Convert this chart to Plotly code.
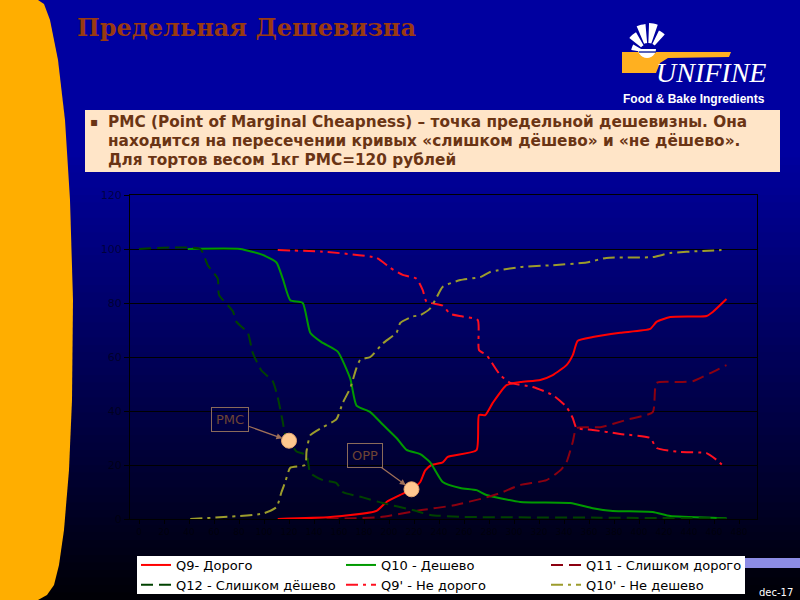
import math
import plotly.graph_objects as go

# ---------------- data ----------------
price_q9 = [111, 153, 190, 198, 209, 218, 225, 229, 234, 243, 247, 270, 272, 277, 283, 294, 305, 321, 331, 342, 347, 351, 363, 385, 409, 414, 425, 454, 459, 470]
q9 = [0, 0.7, 3, 6.3, 8.9, 11, 13.7, 18, 20, 21, 23, 25.5, 38.5, 38.5, 43, 49.6, 50.7, 51.5, 53.3, 57, 60.7, 66, 67.4, 69, 70.4, 73, 74.8, 75.2, 76.7, 81.5]

price_q10 = [39, 81, 99, 110, 115, 121, 131, 137, 146, 159, 169, 174, 185, 195, 206, 214, 225, 233, 243, 257, 270, 278, 305, 345, 363, 379, 411, 425, 465, 470]
q10 = [100, 100, 97.8, 95, 89, 81, 80, 69, 65.5, 62, 52, 42, 39.6, 35, 30, 25.6, 24, 21, 13.7, 11.5, 10.7, 8.9, 6.3, 5.9, 4, 3, 2.6, 1.1, 0.4, 0.3]

price_q11 = [150, 193, 226, 251, 278, 289, 305, 326, 337, 342, 347, 350, 369, 390, 411, 414, 433, 443, 457, 470]
q11 = [0, 0.7, 3.3, 5, 8, 9.6, 12.6, 14.4, 18, 21, 28.5, 33.7, 34, 36.7, 39.6, 50.4, 50.7, 51, 54, 57]

price_q12 = [0, 49, 55, 63, 64, 75, 78, 87, 91, 98, 107, 111, 115, 117, 120, 126, 134, 137, 147, 158, 163, 179, 195, 219, 233, 257, 369, 470]
q12 = [100, 100, 94, 89, 83, 77, 73, 69, 61.5, 55, 51, 45, 36, 31, 29, 25, 23.7, 17, 14.4, 13.3, 10, 8, 5.9, 3.3, 1.5, 0.8, 0.5, 0.2]

price_q9n = [111, 147, 190, 201, 211, 222, 227, 230, 243, 249, 259, 271, 272, 278, 289, 297, 315, 331, 342, 347, 350, 363, 385, 409, 414, 433, 454, 462, 469]
q9n = [99.6, 99, 96.7, 93, 90.4, 89, 84.8, 80.5, 79, 76, 75, 73.7, 62.6, 60.7, 53.3, 50.4, 48.9, 45.9, 41.5, 37.4, 33.7, 33, 31.5, 30, 26.3, 24.8, 24.4, 21.9, 19]

price_q10n = [41, 99, 110, 114, 117, 121, 133, 134, 137, 147, 158, 163, 169, 174, 177, 185, 195, 206, 209, 219, 225, 233, 238, 243, 257, 273, 281, 305, 331, 358, 374, 411, 425, 451, 466]
q10n = [0, 2, 4.4, 10, 13.7, 19, 20, 25, 31, 34, 37, 43, 48.5, 56, 59, 60, 65, 69, 72.6, 75, 75.5, 78, 82, 86, 88.5, 89.6, 91.5, 93.3, 94, 95, 96.7, 97, 98.5, 99.3, 99.6]

point_labels = ["PMC", "OPP"]
point_price = [120, 218]
point_pct = [29, 11]

x_ticks = list(range(0, 481, 20))
y_ticks = [0, 20, 40, 60, 80, 100, 120]

series_names = ["Q9- Дорого", "Q10 - Дешево", "Q11 - Слишком дорого",
                "Q12 - Слишком дёшево", "Q9' - Не дорого", "Q10' - Не дешево"]

# ---------------- geometry helpers ----------------
W, H = 800, 600
L, R, T, B = 130, 43, 195, 81
PW = W - L - R
PH = H - T - B


def X(px):
    return (px - L) / PW


def Y(py):
    return (H - B - py) / PH


def poly(points):
    return "M " + " L ".join(f"{X(a):.5f},{Y(b):.5f}" for a, b in points) + " Z"


shapes = []
# background gradient
shapes.append(dict(type="rect", xref="paper", yref="paper", x0=X(0), x1=X(W), y0=Y(151), y1=Y(0),
                   fillcolor="rgb(0,0,160)", line=dict(width=0), layer="below"))
nb = 60
for i in range(nb):
    y0 = 150 + i * 450 / nb
    y1 = y0 + 450 / nb + 1
    mid = (y0 + y1) / 2
    b = 160 - 155 * (mid - 150) / 450
    shapes.append(dict(type="rect", xref="paper", yref="paper", x0=X(0), x1=X(W), y0=Y(min(y1, 600)), y1=Y(y0),
                       fillcolor=f"rgb(0,0,{int(round(b))})", line=dict(width=0), layer="below"))

# orange left shape
edge = [(0, 38), (4, 44), (20, 50), (60, 58), (120, 65), (200, 70), (300, 73), (400, 72),
        (470, 69), (530, 64), (565, 59), (585, 54), (595, 47), (600, 38)]
orange_pts = [(0, 0)] + [(x, y) for y, x in edge] + [(0, 600)]
shapes.append(dict(type="path", xref="paper", yref="paper", path=poly(orange_pts),
                   fillcolor="#FFAE00", line=dict(width=0), layer="below"))

# logo: orange band
band = [(622, 52), (731, 52), (729, 57), (668, 58), (660, 63), (656, 73), (622, 73)]
shapes.append(dict(type="path", xref="paper", yref="paper", path=poly(band),
                   fillcolor="#FFB020", line=dict(width=0), layer="below"))
# logo: fan rays
cx, cy = 648, 53
rays = [(150, 170, 8, 17), (120, 141, 9, 24), (95, 113, 10, 29), (71, 88, 10, 30), (48, 64, 10, 25)]
for a0, a1, r0, r1 in rays:
    pts = []
    for k in range(5):
        a = math.radians(a0 + (a1 - a0) * k / 4)
        pts.append((cx + r1 * math.cos(a), cy - r1 * math.sin(a)))
    for k in range(5):
        a = math.radians(a1 - (a1 - a0) * k / 4)
        pts.append((cx + r0 * math.cos(a), cy - r0 * math.sin(a)))
    shapes.append(dict(type="path", xref="paper", yref="paper", path=poly(pts),
                       fillcolor="white", line=dict(width=0), layer="below"))
# logo: bowl
bowl = []
for k in range(13):
    a = math.radians(180 + 180 * k / 12)
    bowl.append((cx - 1 + 9 * math.cos(a), cy - 4 - 9 * math.sin(a)))
shapes.append(dict(type="path", xref="paper", yref="paper", path=poly(bowl),
                   fillcolor="white", line=dict(width=0), layer="below"))
shapes.append(dict(type="line", xref="paper", yref="paper", x0=X(639), x1=X(656), y0=Y(52), y1=Y(52),
                   line=dict(color="#2030A0", width=1.5), layer="below"))

# text box
shapes.append(dict(type="rect", xref="paper", yref="paper", x0=X(85), x1=X(780), y0=Y(172), y1=Y(110),
                   fillcolor="#FFE5C8", line=dict(width=0), layer="below"))
# lavender strip
shapes.append(dict(type="rect", xref="paper", yref="paper", x0=X(745), x1=X(800), y0=Y(568), y1=Y(558),
                   fillcolor="#8C8CE6", line=dict(width=0), layer="below"))
# legend white box
shapes.append(dict(type="rect", xref="paper", yref="paper", x0=X(137), x1=X(745), y0=Y(594), y1=Y(556),
                   fillcolor="white", line=dict(width=0), layer="below"))

# ---------------- traces ----------------
fig = go.Figure()
styles = [
    (price_q9, q9, "#FF0000", "solid"),
    (price_q10, q10, "#009A00", "solid"),
    (price_q11, q11, "#8C0010", "12px,6px"),
    (price_q12, q12, "#004200", "12px,6px"),
    (price_q9n, q9n, "#FF1020", "12px,5px,3px,5px"),
    (price_q10n, q10n, "#9C9C2C", "12px,5px,3px,5px"),
]
for name, (xs, ys, col, dash) in zip(series_names, styles):
    fig.add_trace(go.Scatter(x=xs, y=ys, name=name, mode="lines",
                             line=dict(color=col, width=2, dash=dash, shape="spline", smoothing=0.5),
                             hoverinfo="skip"))

fig.add_trace(go.Scatter(x=point_price, y=point_pct, mode="markers", showlegend=False, hoverinfo="skip",
                         marker=dict(size=15, color="#FFC890", line=dict(color="#E8A870", width=1))))

# ---------------- annotations ----------------
ann = []
ann.append(dict(text="<b>Предельная Дешевизна</b>", xref="paper", yref="paper", x=X(75), y=Y(28),
                xanchor="left", yanchor="middle", showarrow=False,
                font=dict(family="DejaVu Serif", size=24, color="#9A3A10")))
ann.append(dict(text="<i>UNIFINE</i>", xref="paper", yref="paper", x=X(711), y=Y(72),
                xanchor="center", yanchor="middle", showarrow=False,
                font=dict(family="Liberation Serif", size=28, color="white")))
ann.append(dict(text="<b>Food & Bake Ingredients</b>", xref="paper", yref="paper", x=X(694), y=Y(99),
                xanchor="center", yanchor="middle", showarrow=False,
                font=dict(family="Liberation Sans", size=12, color="white")))

box_lines = ["PMC (Point of Marginal Cheapness) – точка предельной дешевизны. Она",
             "находится на пересечении кривых «слишком дёшево» и «не дёшево».",
             "Для тортов весом 1кг PMC=120 рублей"]
for i, t in enumerate(box_lines):
    ann.append(dict(text=f"<b>{t}</b>", xref="paper", yref="paper", x=X(106), y=Y(122 + 19 * i),
                    xanchor="left", yanchor="middle", showarrow=False,
                    font=dict(family="DejaVu Sans", size=15.3, color="#6A3414")))
ann.append(dict(text="▪", xref="paper", yref="paper", x=X(94), y=Y(122), xanchor="center", yanchor="middle",
                showarrow=False, font=dict(family="DejaVu Sans", size=12, color="#6A3414")))

offsets = [(-59, -21), (-47, -34)]
for lab, px_, py_, (ax, ay) in zip(point_labels, point_price, point_pct, offsets):
    ann.append(dict(text=lab, x=px_, y=py_, xref="x", yref="y", ax=ax, ay=ay, showarrow=True,
                    arrowhead=2, arrowsize=1, arrowwidth=1.2, arrowcolor="#A07058", standoff=7,
                    bordercolor="#8A6A5A", borderwidth=1, borderpad=4, bgcolor="rgba(0,0,0,0)",
                    font=dict(family="DejaVu Sans", size=13, color="#6E4434")))

ann.append(dict(text="dec-17", xref="paper", yref="paper", x=X(776), y=Y(592), xanchor="center",
                yanchor="middle", showarrow=False, font=dict(family="DejaVu Sans", size=10, color="white")))

fig.update_layout(
    width=W, height=H, autosize=False,
    margin=dict(l=L, r=R, t=T, b=B, pad=0, autoexpand=False),
    paper_bgcolor="#000010", plot_bgcolor="rgba(0,0,0,0)",
    shapes=shapes, annotations=ann,
    showlegend=True,
    legend=dict(orientation="h", x=X(136), y=Y(550), xanchor="left", yanchor="top",
                bgcolor="rgba(0,0,0,0)", borderwidth=0,
                entrywidth=160, entrywidthmode="pixels", itemwidth=30, tracegroupgap=0,
                font=dict(family="DejaVu Sans", size=13, color="black")),
    xaxis=dict(range=[-7.2, 494.4], tickvals=x_ticks, showgrid=False, zeroline=False,
               showline=True, linecolor="black", linewidth=1, mirror=True,
               ticks="outside", ticklen=4, tickcolor="black",
               tickfont=dict(family="DejaVu Sans", size=9, color="rgba(0,0,0,0.55)")),
    yaxis=dict(range=[0, 120], tickvals=y_ticks, ticksuffix="%", showgrid=True, gridcolor="black",
               gridwidth=1, zeroline=False, showline=True, linecolor="black", linewidth=1, mirror=True,
               ticks="outside", ticklen=5, tickcolor="black",
               tickfont=dict(family="DejaVu Sans", size=11, color="rgba(0,0,0,0.55)")),
)

fig.write_html("out.html", config={"displayModeBar": False},
               post_script="document.body.style.margin='0';")
